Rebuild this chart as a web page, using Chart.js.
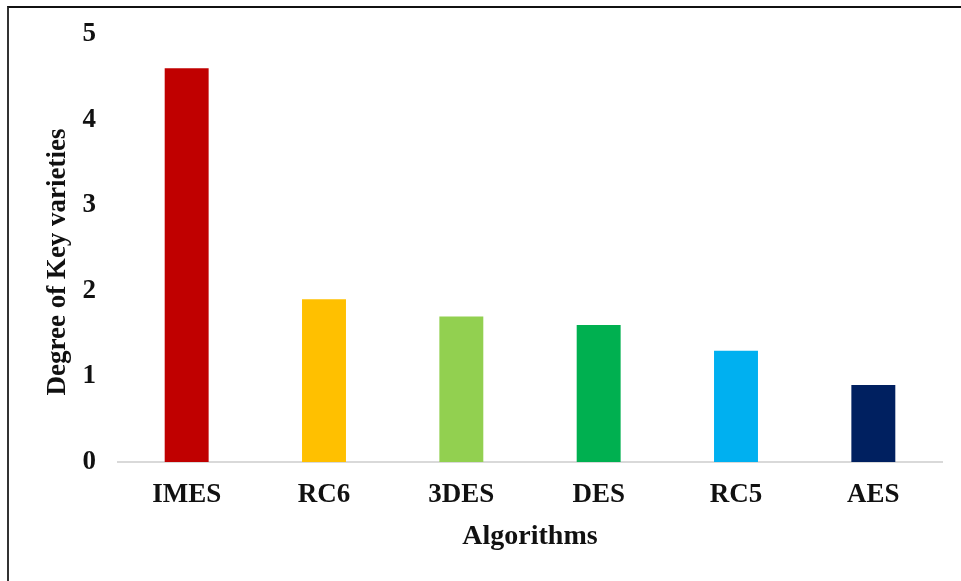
<!DOCTYPE html>
<html>
<head>
<meta charset="utf-8">
<script src="https://cdn.jsdelivr.net/npm/chart.js@4"></script>
<style>
  html, body { margin: 0; padding: 0; background: #fff; }
  #wrap { position: relative; width: 961px; height: 581px; overflow: hidden; }
  #frame { position: absolute; left: 7px; top: 6px; right: -10px; bottom: -10px;
           border-top: 2px solid #111; border-left: 2px solid #333; }
  canvas { position: absolute; left: 0; top: 0; }
</style>
</head>
<body>
<div id="wrap">
  <div id="frame"></div>
  <canvas id="chart" width="961" height="581"></canvas>
</div>
<script>
// ===== 数据 =====
const algorithms = ['IMES', 'RC6', '3DES', 'DES', 'RC5', 'AES'];
const keyVarieties = [4.6, 1.9, 1.7, 1.6, 1.3, 0.9];
const barColors = ['#C00000', '#FFC000', '#92D050', '#00B050', '#00B0F0', '#002060'];
const yTicks = [0, 1, 2, 3, 4, 5];
const yTitle = 'Degree of Key varieties';
const xTitle = 'Algorithms';

const serif = '"Liberation Serif", "Times New Roman", serif';

// y 轴标题：画在左侧，比绘图区中心略低一点
const yTitlePlugin = {
  id: 'yTitle',
  afterDraw(chart) {
    const { ctx } = chart;
    ctx.save();
    ctx.translate(58, 262);
    ctx.rotate(-Math.PI / 2);
    ctx.font = `bold 27px ${serif}`;
    ctx.fillStyle = '#111';
    ctx.textAlign = 'center';
    ctx.textBaseline = 'middle';
    ctx.fillText(yTitle, 0, 0);
    ctx.restore();
  },
};

new Chart(document.getElementById('chart'), {
  type: 'bar',
  data: {
    labels: algorithms,
    datasets: [{
      data: keyVarieties,
      backgroundColor: barColors,
      barPercentage: 0.4,
      categoryPercentage: 0.8,
    }],
  },
  plugins: [yTitlePlugin],
  options: {
    responsive: false,
    animation: false,
    layout: { padding: { left: 0, right: 19, top: 34, bottom: 0 } },
    plugins: { legend: { display: false }, tooltip: { enabled: false } },
    scales: {
      y: {
        min: 0, max: 5,
        afterBuildTicks: (s) => { s.ticks = yTicks.map((v) => ({ value: v })); },
        afterFit: (s) => { s.width = 118; },
        grid: { display: false },
        border: { display: false },
        ticks: { color: '#111', padding: 14, font: { family: serif, size: 27, weight: 'bold' } },
      },
      x: {
        afterFit: (s) => { s.height = 119; },
        grid: { display: false },
        border: { display: true, color: '#d9d9d9', width: 2 },
        ticks: { color: '#111', padding: 9, font: { family: serif, size: 27, weight: 'bold' } },
        title: {
          display: true, text: xTitle, color: '#111',
          font: { family: serif, size: 28, weight: 'bold' }, padding: { top: 0, bottom: 27 },
        },
      },
    },
  },
});
</script>
</body>
</html>
